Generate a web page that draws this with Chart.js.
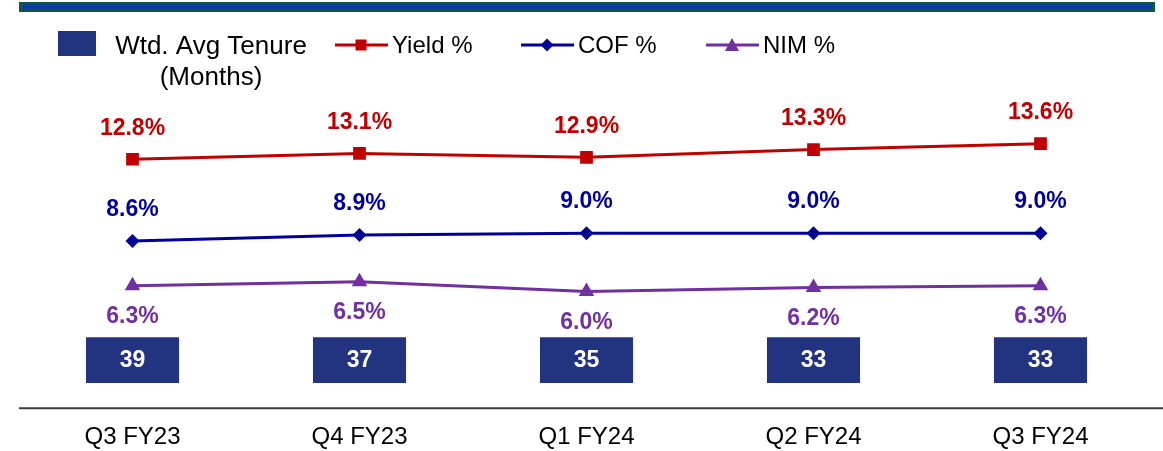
<!DOCTYPE html>
<html>
<head>
<meta charset="utf-8">
<title>Yield, COF and NIM by quarter</title>
<script src="https://cdn.jsdelivr.net/npm/chart.js@4.4.1/dist/chart.umd.min.js"></script>
<style>
  html, body { margin: 0; padding: 0; background: #fff; }
  #chart { display: block; }
</style>
</head>
<body>
<canvas id="chart" width="1163" height="451"></canvas>
<script>
const quarters = ['Q3 FY23', 'Q4 FY23', 'Q1 FY24', 'Q2 FY24', 'Q3 FY24'];
const yieldPct = [12.8, 13.1, 12.9, 13.3, 13.6];
const cofPct = [8.6, 8.9, 9.0, 9.0, 9.0];
const nimPct = [6.3, 6.5, 6.0, 6.2, 6.3];
const tenureMonths = [39, 37, 35, 33, 33];

const FONT = "'Liberation Sans', Arial, Helvetica, sans-serif";
const colors = {
    tenure: '#22337f',
    yield: '#c00000',
    cof: '#000099',
    nim: '#7030a0'
};

// tenure boxes are all the same size, sitting in a band just above the axis
const boxBand = [1.3, 3.65];

function drawMarker(ctx, shape, x, y, size) {
    const h = size / 2;
    ctx.beginPath();
    if (shape === 'rect') {
        ctx.rect(x - h, y - h, size, size);
    } else if (shape === 'rectRot') {
        ctx.moveTo(x, y - h);
        ctx.lineTo(x + h, y);
        ctx.lineTo(x, y + h);
        ctx.lineTo(x - h, y);
    } else {
        ctx.moveTo(x, y - h);
        ctx.lineTo(x + h, y + h * 0.85);
        ctx.lineTo(x - h, y + h * 0.85);
    }
    ctx.closePath();
    ctx.fill();
}

// header rule, legend and the extended x axis line
const frame = {
    id: 'frame',
    beforeDraw(chart) {
        const ctx = chart.ctx;
        ctx.save();
        ctx.fillStyle = '#0c5b37';
        ctx.fillRect(19, 2, 1136, 10);
        ctx.fillStyle = '#0a3f9e';
        ctx.fillRect(22, 4, 1130, 6);
        ctx.restore();
    },
    afterDraw(chart) {
        const ctx = chart.ctx;
        const area = chart.chartArea;
        ctx.save();

        ctx.strokeStyle = '#3c3c3c';
        ctx.lineWidth = 2;
        ctx.beginPath();
        ctx.moveTo(area.left, area.bottom);
        ctx.lineTo(chart.width, area.bottom);
        ctx.stroke();

        // legend
        ctx.fillStyle = colors.tenure;
        ctx.fillRect(58, 31, 38, 25);
        ctx.fillStyle = '#000';
        ctx.textBaseline = 'alphabetic';
        ctx.textAlign = 'center';
        ctx.font = '26px ' + FONT;
        ctx.fillText('Wtd. Avg Tenure', 211, 54);
        ctx.fillText('(Months)', 211, 85);

        const lineItems = [
            { text: 'Yield %', color: colors.yield, shape: 'rect', size: 11, x: 335 },
            { text: 'COF %', color: colors.cof, shape: 'rectRot', size: 13, x: 521 },
            { text: 'NIM %', color: colors.nim, shape: 'triangle', size: 14, x: 706 }
        ];
        ctx.textAlign = 'left';
        ctx.font = '24px ' + FONT;
        lineItems.forEach(item => {
            ctx.strokeStyle = item.color;
            ctx.fillStyle = item.color;
            ctx.lineWidth = 3;
            ctx.beginPath();
            ctx.moveTo(item.x, 45);
            ctx.lineTo(item.x + 53, 45);
            ctx.stroke();
            drawMarker(ctx, item.shape, item.x + 26, 45, item.size);
            ctx.fillStyle = '#000';
            ctx.fillText(item.text, item.x + 57, 53);
        });
        ctx.restore();
    }
};

// value labels above/below the line points and inside the tenure boxes
const valueLabels = {
    id: 'valueLabels',
    afterDatasetsDraw(chart) {
        const ctx = chart.ctx;
        ctx.save();
        ctx.textAlign = 'center';
        ctx.textBaseline = 'middle';
        ctx.font = 'bold 23px ' + FONT;
        chart.data.datasets.forEach((ds, i) => {
            const meta = chart.getDatasetMeta(i);
            meta.data.forEach((el, j) => {
                if (ds.type === 'bar') {
                    const c = el.getCenterPoint();
                    ctx.fillStyle = '#fff';
                    ctx.fillText(String(ds.data[j].months), c.x, c.y + 1);
                } else {
                    ctx.fillStyle = ds.borderColor;
                    ctx.fillText(ds.data[j].toFixed(1) + '%', el.x, el.y + ds.labelOffset);
                }
            });
        });
        ctx.restore();
    }
};

const lineSeries = (label, values, color, style, radius, offset) => ({
    type: 'line',
    label: label,
    data: values,
    borderColor: color,
    backgroundColor: color,
    borderWidth: 3,
    tension: 0,
    fill: false,
    pointStyle: style,
    pointRadius: radius,
    pointHoverRadius: radius,
    pointBorderWidth: 0,
    labelOffset: offset,
    order: 0
});

new Chart(document.getElementById('chart'), {
    data: {
        labels: quarters,
        datasets: [
            lineSeries('Yield %', yieldPct, colors.yield, 'rect', 9, -31),
            lineSeries('COF %', cofPct, colors.cof, 'rectRot', 7, -31),
            lineSeries('NIM %', nimPct, colors.nim, 'triangle', 9, 31),
            {
                type: 'bar',
                label: 'Wtd. Avg Tenure (Months)',
                data: quarters.map((q, i) => ({ x: q, y: boxBand, months: tenureMonths[i] })),
                backgroundColor: colors.tenure,
                borderWidth: 0,
                barPercentage: 0.41,
                categoryPercentage: 1,
                order: 1
            }
        ]
    },
    options: {
        responsive: false,
        animation: false,
        layout: { padding: { top: 97, left: 19, right: 6, bottom: -16 } },
        plugins: {
            legend: { display: false },
            tooltip: { enabled: false }
        },
        scales: {
            x: {
                offset: true,
                grid: { display: false, drawTicks: false },
                border: { display: false },
                ticks: {
                    color: '#000',
                    padding: 15,
                    font: { family: FONT, size: 24 }
                }
            },
            y: {
                display: false,
                min: 0,
                max: 16
            }
        }
    },
    plugins: [frame, valueLabels]
});
</script>
</body>
</html>
